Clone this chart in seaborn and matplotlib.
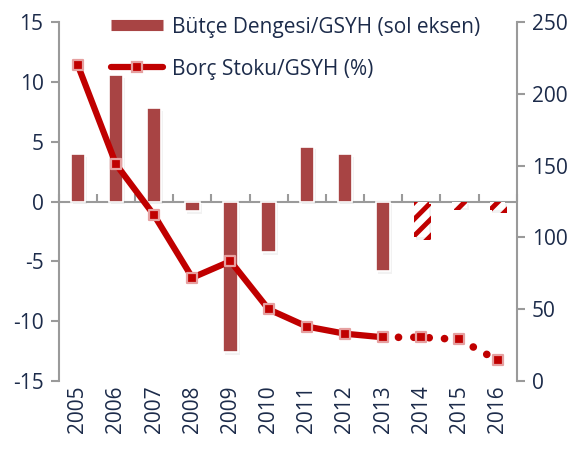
import numpy as np
import pandas as pd
import seaborn as sns
import matplotlib.pyplot as plt
from matplotlib.lines import Line2D
import matplotlib.patheffects as pe

# data
years = ["2005", "2006", "2007", "2008", "2009", "2010",
         "2011", "2012", "2013", "2014", "2015", "2016"]
budget = [4.0, 10.6, 7.8, -0.8, -12.6, -4.2, 4.6, 4.0, -5.8, -3.0, -0.5, -0.7]
debt = [220, 151, 115.5, 72, 83.5, 50, 38, 33, 30.5, 30.5, 29, 14.5]
n_actual = 9  # 2005-2013 actual, rest projection

bar_col = "#A84444"
line_col = "#C00000"
txt_col = "#1C2B4A"
grey = "#9A9A9A"
fs = 15

sns.set_style("white")
plt.rcParams["font.family"] = ["Open Sans", "DejaVu Sans"]
plt.rcParams["hatch.linewidth"] = 3.5
plt.rcParams["axes.unicode_minus"] = False

df = pd.DataFrame({"year": years, "budget": budget, "debt": debt})
df["pos"] = np.arange(len(df))

fig = plt.figure(figsize=(5.76, 4.51), dpi=100)
ax = fig.add_axes([0.102, 0.155, 0.795, 0.796])

# zero line drawn first so bars sit over it
ax.axhline(0, color=grey, lw=1.5, zorder=0)
sns.barplot(data=df, x="year", y="budget", color=bar_col, saturation=1,
            width=0.38, edgecolor="white", linewidth=1.2, ax=ax, zorder=3)
shadow = [pe.SimplePatchShadow(offset=(1.5, -2), shadow_rgbFace="#999999", alpha=0.12),
          pe.Normal()]
for i, p in enumerate(ax.patches):
    p.set_path_effects(shadow)
    if i >= n_actual:
        p.set_facecolor("white")
        p.set_edgecolor(line_col)
        p.set_hatch("//")
        p.set_linewidth(0)

ax.set_ylim(-15, 15)
ax.set_xlim(-0.5, len(years) - 0.5)
ax.set_yticks(np.arange(-15, 16, 5))
ax.set_xlabel("")
ax.set_ylabel("")
ax.tick_params(axis="x", length=0, labelrotation=90, labelsize=fs, labelcolor=txt_col, pad=3)
ax.tick_params(axis="y", length=6, width=1.5, color=grey, direction="out",
               labelsize=fs, labelcolor=txt_col, pad=5)
for s in ["top", "bottom", "right"]:
    ax.spines[s].set_visible(False)
ax.spines["left"].set_color(grey)
ax.spines["left"].set_linewidth(1.5)

# ticks between categories on the zero line
sec = ax.secondary_xaxis(0.5)
sec.set_xticks(np.arange(-0.5, len(years), 1))
sec.set_xticklabels([])
sec.tick_params(length=6, width=1.5, color=grey, direction="out")
for s in sec.spines.values():
    s.set_visible(False)

ax2 = ax.twinx()
solid = df.iloc[:n_actual]
proj = df.iloc[n_actual - 1:]
sns.lineplot(data=proj, x="pos", y="debt", ax=ax2, color=line_col, lw=5.5,
             linestyle=(0, (0.01, 2.0)), dash_capstyle="round")
sns.lineplot(data=solid, x="pos", y="debt", ax=ax2, color=line_col, lw=4.5,
             solid_capstyle="round")
sns.scatterplot(data=df, x="pos", y="debt", ax=ax2, marker="s", s=48,
                color=line_col, edgecolor="#E6A0A0", linewidth=1.6, zorder=5)
ax2.set_ylim(0, 250)
ax2.set_yticks(np.arange(0, 251, 50))
ax2.set_xlim(-0.5, len(years) - 0.5)
ax2.set_xlabel("")
ax2.set_ylabel("")
ax2.tick_params(axis="y", length=6, width=1.5, color=grey, direction="out",
                labelsize=fs, labelcolor=txt_col, pad=5)
for s in ["top", "bottom", "left"]:
    ax2.spines[s].set_visible(False)
ax2.spines["right"].set_color(grey)
ax2.spines["right"].set_linewidth(1.5)

h1 = Line2D([], [], color=bar_col, lw=8, solid_capstyle="butt")
h2 = Line2D([], [], color=line_col, lw=4.5, marker="s", ms=7,
            mfc=line_col, mec="#E6A0A0", mew=1.6, solid_capstyle="round")
leg = ax2.legend([h1, h2], ["Bütçe Dengesi/GSYH (sol eksen)", "Borç Stoku/GSYH (%)"],
                 loc="upper left", bbox_to_anchor=(0.115, 1.015), frameon=False,
                 fontsize=fs, handlelength=2.5, handletextpad=0.4,
                 labelspacing=1.0, borderpad=0, borderaxespad=0)
for t in leg.get_texts():
    t.set_color(txt_col)

fig.savefig("out.png", dpi=100)
